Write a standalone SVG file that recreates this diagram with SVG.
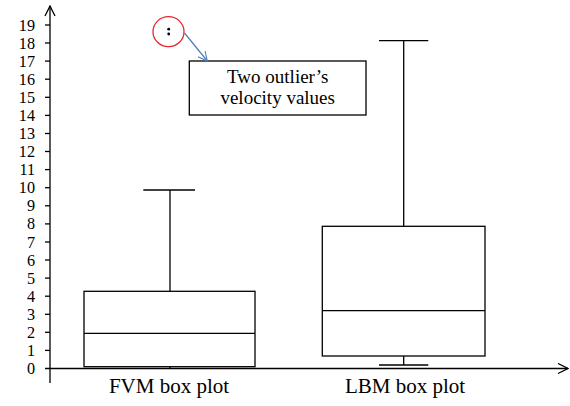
<svg xmlns="http://www.w3.org/2000/svg" width="570" height="406" viewBox="0 0 570 406">
  <style>
    .ln { stroke: #000; stroke-width: 1.3; fill: none; }
    .box { stroke: #000; stroke-width: 1.3; fill: #fff; }
    .tick { font-family: "Liberation Serif", "Times New Roman", serif; font-size: 16.2px; fill: #000; text-anchor: end; }
    .lbl { font-family: "Liberation Serif", "Times New Roman", serif; font-size: 21px; fill: #000; text-anchor: middle; }
    .note { font-family: "Liberation Serif", "Times New Roman", serif; font-size: 19px; fill: #000; text-anchor: middle; }
  </style>
  <defs>
    <marker id="openArrow" viewBox="0 0 12 12" refX="11" refY="6" markerWidth="12" markerHeight="12" markerUnits="userSpaceOnUse" orient="auto">
      <path d="M1,1 L11,6 L1,11" fill="none" stroke="#000" stroke-width="1.3"/>
    </marker>
    <marker id="blueArrow" viewBox="0 0 12 12" refX="11" refY="6" markerWidth="11" markerHeight="11" markerUnits="userSpaceOnUse" orient="auto">
      <path d="M1,1 L11,6 L1,11" fill="none" stroke="#4a7ebb" stroke-width="1.2"/>
    </marker>
  </defs>

  <!-- Axes -->
  <g id="y-axis">
    <line class="ln" x1="50" y1="383" x2="50" y2="6" marker-end="url(#openArrow)"/>
    <g class="ln">
      <line x1="45" y1="350.4" x2="50" y2="350.4"/>
      <line x1="45" y1="332.3" x2="50" y2="332.3"/>
      <line x1="45" y1="314.3" x2="50" y2="314.3"/>
      <line x1="45" y1="296.2" x2="50" y2="296.2"/>
      <line x1="45" y1="278.1" x2="50" y2="278.1"/>
      <line x1="45" y1="260.0" x2="50" y2="260.0"/>
      <line x1="45" y1="242.0" x2="50" y2="242.0"/>
      <line x1="45" y1="223.9" x2="50" y2="223.9"/>
      <line x1="45" y1="205.8" x2="50" y2="205.8"/>
      <line x1="45" y1="187.7" x2="50" y2="187.7"/>
      <line x1="45" y1="169.6" x2="50" y2="169.6"/>
      <line x1="45" y1="151.5" x2="50" y2="151.5"/>
      <line x1="45" y1="133.5" x2="50" y2="133.5"/>
      <line x1="45" y1="115.4" x2="50" y2="115.4"/>
      <line x1="45" y1="97.3" x2="50" y2="97.3"/>
      <line x1="45" y1="79.2" x2="50" y2="79.2"/>
      <line x1="45" y1="61.1" x2="50" y2="61.1"/>
      <line x1="45" y1="43.0" x2="50" y2="43.0"/>
      <line x1="45" y1="25.0" x2="50" y2="25.0"/>
    </g>
    <g class="tick">
      <text x="35" y="374">0</text>
      <text x="35" y="355.9">1</text>
      <text x="35" y="337.8">2</text>
      <text x="35" y="319.8">3</text>
      <text x="35" y="301.7">4</text>
      <text x="35" y="283.6">5</text>
      <text x="35" y="265.5">6</text>
      <text x="35" y="247.5">7</text>
      <text x="35" y="229.4">8</text>
      <text x="35" y="211.3">9</text>
      <text x="35" y="193.2">10</text>
      <text x="35" y="175.1">11</text>
      <text x="35" y="157.0">12</text>
      <text x="35" y="139.0">13</text>
      <text x="35" y="120.9">14</text>
      <text x="35" y="102.8">15</text>
      <text x="35" y="84.7">16</text>
      <text x="35" y="66.6">17</text>
      <text x="35" y="48.5">18</text>
      <text x="35" y="30.5">19</text>
    </g>
  </g>
  <g id="x-axis">
    <line class="ln" x1="45" y1="368.5" x2="568" y2="368.5" marker-end="url(#openArrow)"/>
  </g>

  <!-- FVM box plot -->
  <g id="fvm-box">
    <line class="ln" x1="170" y1="190" x2="170" y2="291.3"/>
    <line class="ln" x1="143.3" y1="190" x2="195" y2="190"/>
    <rect class="box" x="84" y="291.3" width="171" height="75.4"/>
    <line class="ln" x1="84" y1="333.3" x2="255" y2="333.3"/>
    <line class="ln" x1="170" y1="366.7" x2="170" y2="368.5"/>
    <text class="lbl" x="169" y="392.5">FVM box plot</text>
  </g>

  <!-- LBM box plot -->
  <g id="lbm-box">
    <line class="ln" x1="403.7" y1="40.7" x2="403.7" y2="226.3"/>
    <line class="ln" x1="379" y1="40.7" x2="428.3" y2="40.7"/>
    <rect class="box" x="322.3" y="226.3" width="162.7" height="129.7"/>
    <line class="ln" x1="322.3" y1="310.7" x2="485" y2="310.7"/>
    <line class="ln" x1="403.7" y1="356" x2="403.7" y2="365"/>
    <line class="ln" x1="379" y1="365" x2="428.3" y2="365"/>
    <text class="lbl" x="405" y="392.5">LBM box plot</text>
  </g>

  <!-- Outlier marker -->
  <g id="outliers">
    <ellipse cx="168.5" cy="31.7" rx="15.5" ry="15" fill="none" stroke="#e8262a" stroke-width="1.3"/>
    <circle cx="168.7" cy="29.2" r="1.4" fill="#000"/>
    <circle cx="168.7" cy="34" r="1.4" fill="#000"/>
  </g>

  <!-- Annotation callout -->
  <g id="note">
    <rect class="box" x="189.3" y="61" width="176.7" height="54"/>
    <text class="note" x="277.7" y="83">Two outlier’s</text>
    <text class="note" x="277.7" y="104">velocity values</text>
  </g>

  <g id="connectors">
    <line x1="184.5" y1="33" x2="207.3" y2="61" stroke="#4a7ebb" stroke-width="1.2" marker-end="url(#blueArrow)"/>
  </g>
</svg>
